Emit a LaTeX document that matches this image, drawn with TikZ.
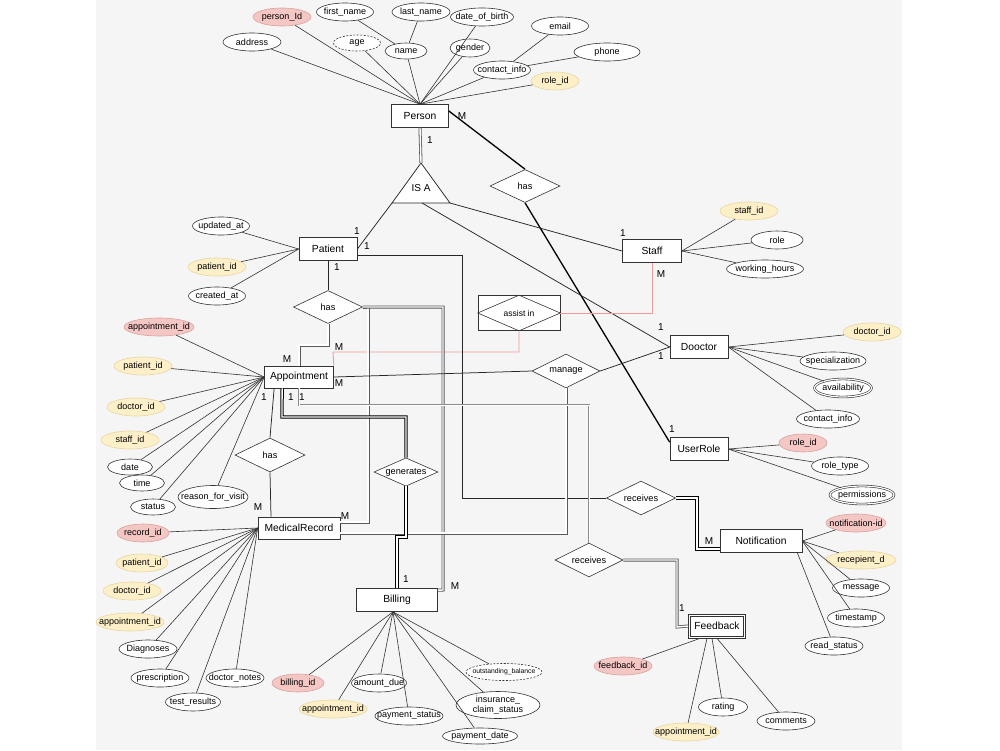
\documentclass[tikz,border=0pt]{standalone}
\usepackage{fontspec}
\setmainfont{Liberation Sans}
\usetikzlibrary{shapes.geometric}

\definecolor{bggray}{HTML}{F5F5F5}
\definecolor{keyfill}{HTML}{F4C6C4}
\definecolor{keydraw}{HTML}{D9A3A1}
\definecolor{fkfill}{HTML}{FDEFC8}
\definecolor{fkdraw}{HTML}{E8D6A0}
\definecolor{assistred}{HTML}{F09A98}

\begin{document}
\begin{tikzpicture}[x=1pt, y=-1pt,
  entity/.style={draw=black!80, fill=white, line width=0.7pt, minimum height=23pt, inner sep=0pt, font=\fontsize{10.3}{12}\selectfont},
  attr/.style={ellipse, draw=black!80, fill=white, line width=0.6pt, minimum height=18pt, inner xsep=-10pt, inner ysep=0pt, font=\fontsize{9}{10}\selectfont},
  key attr/.style={attr, draw=keydraw, fill=keyfill},
  foreign attr/.style={attr, draw=fkdraw, fill=fkfill},
  derived attr/.style={attr, dash pattern=on 2pt off 1.5pt},
  multi attr/.style={attr, double, double distance=1.2pt},
  relation/.style={diamond, aspect=2, draw=black!80, fill=white, line width=0.6pt, inner sep=0pt, font=\fontsize{9.2}{11}\selectfont},
  link/.style={draw=black!80, line width=0.6pt},
  rel line/.style={draw=black!85, line width=0.75pt},
  bold line/.style={draw=black, line width=1.3pt},
  total/.style={draw=black!65, double=white, double distance=1.4pt, line width=0.8pt},
  soft total/.style={draw=black!45, double=white, double distance=1pt, line width=0.75pt},
  strong total/.style={draw=black, double=white, double distance=1.3pt, line width=1pt},
  assist line/.style={draw=assistred, line width=0.9pt},
  card/.style={inner sep=0pt, font=\fontsize{10}{12}\selectfont}
]
  % canvas
  \useasboundingbox (0,0) rectangle (1000,750);
  \fill[white] (0,0) rectangle (1000,750);
  \fill[bggray] (96,0) rectangle (902,750);

  % Person and its attributes
  \node[entity, minimum width=57pt] (per) at (420,116) {Person};
  \node[key attr, minimum width=58pt] (pid) at (282,17) {person\_Id};
  \node[attr, minimum width=57pt] (fname) at (345,12) {first\_name};
  \node[attr, minimum width=58pt] (lname) at (421,12) {last\_name};
  \node[attr, minimum width=63pt] (dob) at (482,17) {date\_of\_birth};
  \node[attr, minimum width=57pt] (email) at (560,26) {email};
  \node[attr, minimum width=66pt] (phone) at (607,52) {phone};
  \node[attr, minimum width=58pt] (addr) at (252,42) {address};
  \node[derived attr, minimum width=47pt, minimum height=16pt] (age) at (357,43) {age};
  \node[attr, minimum width=42pt, minimum height=16pt] (name) at (406,51) {name};
  \node[attr, minimum width=40pt] (gender) at (470,48) {gender};
  \node[attr, minimum width=57pt] (cinfo) at (502,70) {contact\_info};
  \node[foreign attr, minimum width=48pt] (prole) at (555,81) {role\_id};

  \foreach \a in {pid,addr,age,name,dob,gender,cinfo,prole}
    \draw[link] (\a) -- (per.north);
  \draw[link] (name) -- (fname);
  \draw[link] (name) -- (lname);
  \draw[link] (cinfo) -- (email);
  \draw[link] (cinfo) -- (phone);

  % IS A triangle
  \coordinate (isa-top) at (421,163);
  \coordinate (isa-l) at (392,203);
  \coordinate (isa-r) at (450,203);
  \coordinate (isa-m) at (422,203);
  \draw[rel line, fill=white] (isa-top) -- (isa-l) -- (isa-r) -- cycle;
  \node[inner sep=0pt, font=\fontsize{10}{12}\selectfont] (isa) at (421,188) {IS A};

  % sub types
  \node[entity, minimum width=58pt] (pat) at (328,249) {Patient};
  \node[entity, minimum width=59pt] (staff) at (652,251) {Staff};
  \node[entity, minimum width=58pt] (doc) at (699,347) {Dooctor};
  \node[entity, minimum width=58pt] (ur) at (699,449) {UserRole};
  \node[entity, minimum width=69pt, minimum height=22pt] (app) at (299,377) {Appointment};
  \node[entity, minimum width=82pt, minimum height=22pt] (mr) at (299,528) {MedicalRecord};
  \node[entity, minimum width=81pt] (bill) at (397,600) {Billing};
  \node[entity, minimum width=82pt] (notif) at (761,541) {Notification};
  \node[entity, minimum width=57pt, minimum height=24pt] (fb) at (717,626) {Feedback};
  \draw[line width=0.6pt, draw=black!80] ([shift={(2.5pt,-2.5pt)}]fb.north west) rectangle ([shift={(-2.5pt,2.5pt)}]fb.south east);

  % relationships
  \node[relation, minimum width=70pt, minimum height=33pt] (hasrole) at (525,186) {has};
  \node[relation, minimum width=69pt, minimum height=33pt] (hasapp) at (328,307) {has};
  \node[relation, minimum width=70pt, minimum height=34pt] (hasrec) at (270,455) {has};
  \node[relation, minimum width=68pt, minimum height=34pt] (manage) at (566,371) {manage};
  \node[relation, minimum width=64pt, minimum height=28pt] (gen) at (406,472) {generates};
  \node[relation, minimum width=69pt, minimum height=34pt] (recnot) at (641,498) {receives};
  \node[relation, minimum width=68pt, minimum height=34pt] (recfb) at (589,560) {receives};
  \node[draw=black!80, fill=white, line width=0.6pt, minimum width=82pt, minimum height=35pt, inner sep=0pt] (assist) at (519,313) {};
  \draw[link] (assist.west) -- (assist.north) -- (assist.east) -- (assist.south) -- cycle;
  \node[inner sep=0pt, font=\fontsize{8.5}{10}\selectfont] (assistlbl) at (assist.center) {assist in};

  % Patient attributes
  \node[attr, minimum width=57pt] (upd) at (221,226) {updated\_at};
  \node[foreign attr, minimum width=58pt] (ppid) at (217,267) {patient\_id};
  \node[attr, minimum width=57pt] (crt) at (217,296) {created\_at};
  \foreach \a in {upd,ppid,crt}
    \draw[link] (\a) -- (pat.west);

  % Staff attributes
  \node[foreign attr, minimum width=58pt] (stid) at (749,211) {staff\_id};
  \node[attr, minimum width=52pt] (srole) at (777,240) {role};
  \node[attr, minimum width=77pt] (whours) at (765,269) {working\_hours};
  \foreach \a in {stid,srole,whours}
    \draw[link] (\a) -- (staff.east);

  % Dooctor attributes
  \node[foreign attr, minimum width=58pt] (did) at (872,332) {doctor\_id};
  \node[attr, minimum width=66pt] (spec) at (833,361) {specialization};
  \node[multi attr, minimum width=57pt] (avail) at (843,388) {availability};
  \node[attr, minimum width=63pt] (dcinfo) at (828,419) {contact\_info};
  \foreach \a in {did,spec,avail,dcinfo}
    \draw[link] (\a) -- (doc.east);

  % UserRole attributes
  \node[key attr, minimum width=48pt] (rid) at (803,443) {role\_id};
  \node[attr, minimum width=57pt] (rtype) at (840,466) {role\_type};
  \node[multi attr, minimum width=64pt] (perm) at (862,495) {permissions};
  \foreach \a in {rid,rtype,perm}
    \draw[link] (\a) -- (ur.east);

  % Appointment attributes
  \node[key attr, minimum width=70pt] (aid) at (159,327) {appointment\_id};
  \node[foreign attr, minimum width=58pt] (apid) at (143,366) {patient\_id};
  \node[foreign attr, minimum width=58pt] (adid) at (136,407) {doctor\_id};
  \node[foreign attr, minimum width=58pt] (asid) at (130,440) {staff\_id};
  \node[attr, minimum width=45pt, minimum height=16pt] (date) at (130,467) {date};
  \node[attr, minimum width=45pt, minimum height=16pt] (time) at (142,483) {time};
  \node[attr, minimum width=45pt, minimum height=16pt] (status) at (153,507) {status};
  \node[attr, minimum width=70pt, minimum height=23pt] (reason) at (213,497) {reason\_for\_visit};
  \foreach \a in {aid,apid,adid,asid,date,time,status,reason}
    \draw[link] (\a) -- (app.west);

  % MedicalRecord attributes
  \node[key attr, minimum width=52pt] (mrid) at (143,533) {record\_id};
  \node[foreign attr, minimum width=52pt] (mrpid) at (142,563) {patient\_id};
  \node[foreign attr, minimum width=58pt] (mrdid) at (132,591) {doctor\_id};
  \node[foreign attr, minimum width=68pt] (mraid) at (130,622) {appointment\_id};
  \node[attr, minimum width=58pt] (diag) at (148,649) {Diagnoses};
  \node[attr, minimum width=58pt] (presc) at (160,678) {prescription};
  \node[attr, minimum width=55pt] (tres) at (193,702) {test\_results};
  \node[attr, minimum width=58pt] (dnotes) at (235,678) {doctor\_notes};
  \foreach \a in {mrid,mrpid,mrdid,mraid,diag,presc,tres,dnotes}
    \draw[link] (\a) -- (mr.west);

  % Billing attributes
  \node[key attr, minimum width=52pt] (bid) at (298,683) {billing\_id};
  \node[foreign attr, minimum width=68pt] (baid) at (333,709) {appointment\_id};
  \node[attr, minimum width=55pt] (amt) at (379,683) {amount\_due};
  \node[attr, minimum width=68pt] (pstat) at (409,716) {payment\_status};
  \node[attr, minimum width=75pt, minimum height=16pt] (pdate) at (480,736) {payment\_date};
  \node[attr, minimum width=84pt, minimum height=27pt, align=center, font=\fontsize{9}{10.5}\selectfont] (ins) at (498,705) {insurance\_\\claim\_status};
  \node[derived attr, minimum width=76pt, minimum height=17pt, font=\fontsize{6.8}{8}\selectfont] (obal) at (504,672) {outstanding\_balance};
  \foreach \a in {bid,baid,amt,pstat,pdate,ins,obal}
    \draw[link] (\a) -- ([xshift=-4pt]bill.south);

  % Notification attributes
  \node[key attr, minimum width=60pt] (nid) at (856,523) {notification-id};
  \node[foreign attr, minimum width=70pt] (nrid) at (861,560) {recepient\_d};
  \node[attr, minimum width=57pt] (msg) at (861,588) {message};
  \node[attr, minimum width=57pt] (ts) at (856,618) {timestamp};
  \node[attr, minimum width=58pt] (rs) at (834,646) {read\_status};
  \foreach \a in {nid,nrid,msg,ts}
    \draw[link] (\a) -- (notif.east);
  \draw[link] (rs) -- ([xshift=-5pt]notif.south east);

  % Feedback attributes
  \node[key attr, minimum width=58pt] (fid) at (623,666) {feedback\_id};
  \node[foreign attr, minimum width=66pt] (faid) at (686,732) {appointment\_id};
  \node[attr, minimum width=49pt] (rating) at (723,707) {rating};
  \node[attr, minimum width=58pt] (comm) at (786,721) {comments};
  \draw[link] (fid) -- ([xshift=-17pt]fb.south);
  \draw[link] (faid) -- ([xshift=-10pt]fb.south);
  \draw[link] (rating) -- ([xshift=-5pt]fb.south);
  \draw[link] (comm) -- (fb.south);

  % Person connectors
  \draw[total] (per.south) -- (isa-top);
  \draw[bold line] ([yshift=5pt]per.east) -- (hasrole.north);
  \draw[bold line] (hasrole.south) -- ([yshift=-5pt]ur.north west);
  \draw[rel line] (isa-l) -- (pat.east);
  \draw[rel line] (isa-r) -- (staff.west);
  \draw[rel line] (isa-m) -- (doc.west);

  % assist in
  \draw[assist line] (staff.south) |- (assist.east);
  \draw[assist line] (assist.south) |- (333,352) -- (app.north east);

  % Patient has Appointment
  \draw[rel line] (pat.south) -- (hasapp.north);
  \draw[total] (hasapp.south) -- (328,345) -| (app.north);
  \draw[total] (hasapp.east) -- (368,307) |- ([yshift=6pt]mr.east);
  \draw[total] (hasapp.east) -| (443,590) -- ([yshift=-2pt]bill.north east);
  \draw[rel line] ([yshift=-6pt]pat.east) -- (462,255) |- (recnot.west);

  % Appointment connectors
  \draw[rel line] (app.east) -- (manage.west);
  \draw[rel line] (manage.east) -- (doc.west);
  \draw[total] (manage.south) |- ([yshift=-5pt]mr.east);
  \draw[rel line] ([xshift=10pt]app.south west) -- (hasrec.north);
  \draw[rel line] (hasrec.south) -- ([xshift=-28pt]mr.north);
  \draw[strong total] ([xshift=18pt]app.south west) -- (282,417) -| (gen.north);
  \draw[strong total] (gen.south) -- (406,537) -| (bill.north);
  \draw[soft total] (app.south) -- (299,405) -| (recfb.north);

  % receives
  \draw[total] (recfb.east) -| (677,627) -- (fb.west);
  \draw[strong total] (recnot.east) -| (697,549) -- ([yshift=-8pt]notif.west);

  % cardinalities
  \node[card] (c1) at (462,116) {M};
  \node[card] (c2) at (430,140) {1};
  \node[card] (c3) at (357,231) {1};
  \node[card] (c4) at (367,246) {1};
  \node[card] (c5) at (623,233) {1};
  \node[card] (c6) at (661,274) {M};
  \node[card] (c7) at (661,327) {1};
  \node[card] (c8) at (661,356) {1};
  \node[card] (c9) at (672,429) {1};
  \node[card] (c10) at (337,267) {1};
  \node[card] (c11) at (339,347) {M};
  \node[card] (c12) at (339,383) {M};
  \node[card] (c13) at (287,359) {M};
  \node[card] (c14) at (264,397) {1};
  \node[card] (c15) at (291,397) {1};
  \node[card] (c16) at (302,397) {1};
  \node[card] (c17) at (258,507) {M};
  \node[card] (c18) at (345,516) {M};
  \node[card] (c19) at (406,579) {1};
  \node[card] (c20) at (455,586) {M};
  \node[card] (c21) at (709,541) {M};
  \node[card] (c22) at (682,608) {1};
\end{tikzpicture}
\end{document}
